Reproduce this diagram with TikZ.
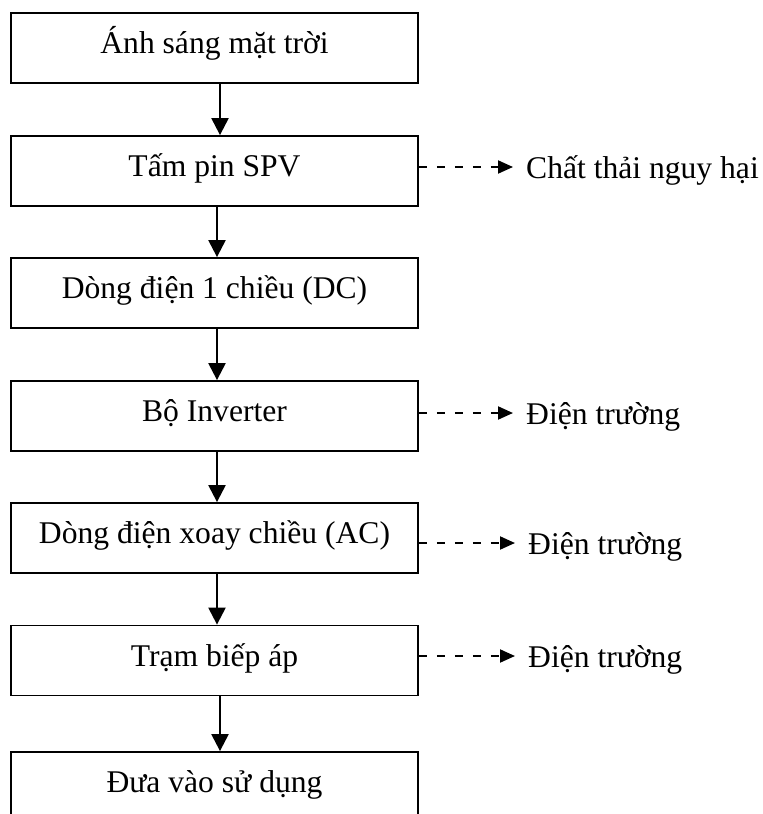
\documentclass[tikz,border=0pt]{standalone}
\usepackage{fontspec}
\setmainfont{Liberation Serif}
\usetikzlibrary{arrows.meta}
\begin{document}
\begin{tikzpicture}[x=1pt,y=-1pt,
  every node/.style={font=\fontsize{31.6}{37}\selectfont, inner sep=0pt},
  stepbox/.style={draw, line width=1.8pt, minimum width=407pt, minimum height=70pt,
                  text height=11pt, text depth=0pt},
  sidelabel/.style={anchor=west, text height=22pt, text depth=0pt},
  flow/.style={line width=2.2pt, -{Triangle[length=17pt,width=17pt]}},
  emit/.style={line width=2pt, dash pattern=on 8pt off 10pt,
               -{Triangle[length=15pt,width=13pt]}}]
  \clip (0,0) rectangle (763,814);
  \useasboundingbox (0,0) rectangle (763,814);

  % main process chain
  \node[stepbox] (b1) at (214.5,48)  {Ánh sáng mặt trời};
  \node[stepbox] (b2) at (214.5,171) {Tấm pin SPV};
  \node[stepbox] (b3) at (214.5,293) {Dòng điện 1 chiều (DC)};
  \node[stepbox] (b4) at (214.5,416) {Bộ Inverter};
  \node[stepbox] (b5) at (214.5,538) {Dòng điện xoay chiều (AC)};
  \node[stepbox] (b6) at (214.5,660.5) {Trạm biếp áp};
  \node[stepbox] (b7) at (214.5,787) {Đưa vào sử dụng};

  \draw[flow] ([xshift=5.5pt]b1.south) -- ([xshift=5.5pt]b2.north);
  \draw[flow] ([xshift=2.5pt]b2.south) -- ([xshift=2.5pt]b3.north);
  \draw[flow] ([xshift=2.5pt]b3.south) -- ([xshift=2.5pt]b4.north);
  \draw[flow] ([xshift=2.5pt]b4.south) -- ([xshift=2.5pt]b5.north);
  \draw[flow] ([xshift=2.5pt]b5.south) -- ([xshift=2.5pt]b6.north);
  \draw[flow] ([xshift=5.5pt]b6.south) -- ([xshift=5.5pt]b7.north);

  % side outputs
  \node[sidelabel] (o2) at (526,167) {Chất thải nguy hại};
  \node[sidelabel] (o4) at (526,413) {Điện trường};
  \node[sidelabel] (o5) at (528,543) {Điện trường};
  \node[sidelabel] (o6) at (528,656) {Điện trường};

  \draw[emit] (b2.east |- o2.west) -- ([xshift=-13pt]o2.west);
  \draw[emit] (b4.east |- o4.west) -- ([xshift=-13pt]o4.west);
  \draw[emit] (b5.east |- o5.west) -- ([xshift=-13pt]o5.west);
  \draw[emit] (b6.east |- o6.west) -- ([xshift=-13pt]o6.west);
\end{tikzpicture}
\end{document}
